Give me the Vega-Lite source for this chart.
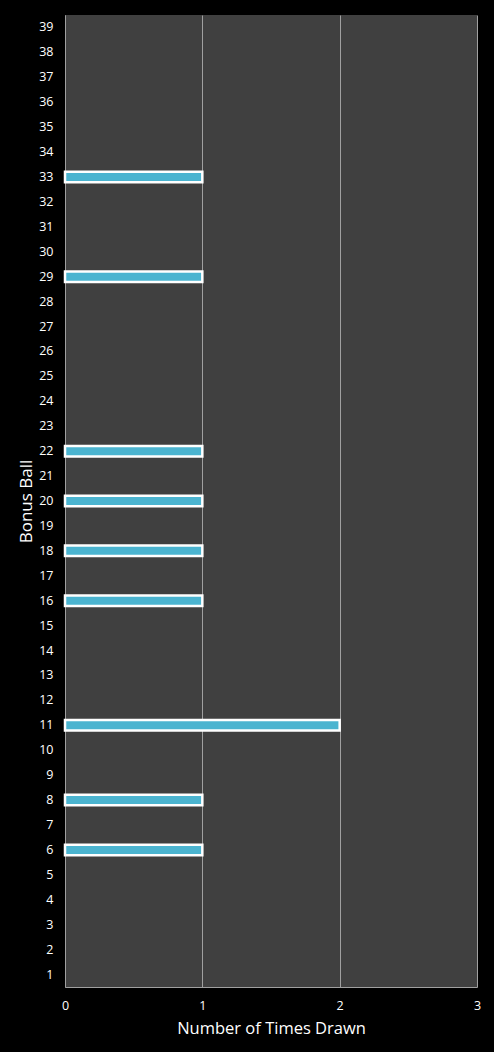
{
  "$schema": "https://vega.github.io/schema/vega-lite/v6.json",
  "width": 412,
  "height": 972,
  "autosize": {"type": "none"},
  "padding": {"left": 65, "top": 15, "right": 17, "bottom": 65},
  "background": "#000000",
  "config": {
    "view": {"fill": "#404040", "stroke": null},
    "font": "Open Sans",
    "axis": {"labelColor": "#ffffff", "titleColor": "#ffffff", "labelFont": "Open Sans", "titleFont": "Open Sans", "titleFontWeight": "normal"}
  },
  "data": {
    "values": [
      {"ball": 1, "count": 0}, {"ball": 2, "count": 0}, {"ball": 3, "count": 0},
      {"ball": 4, "count": 0}, {"ball": 5, "count": 0}, {"ball": 6, "count": 1},
      {"ball": 7, "count": 0}, {"ball": 8, "count": 1}, {"ball": 9, "count": 0},
      {"ball": 10, "count": 0}, {"ball": 11, "count": 2}, {"ball": 12, "count": 0},
      {"ball": 13, "count": 0}, {"ball": 14, "count": 0}, {"ball": 15, "count": 0},
      {"ball": 16, "count": 1}, {"ball": 17, "count": 0}, {"ball": 18, "count": 1},
      {"ball": 19, "count": 0}, {"ball": 20, "count": 1}, {"ball": 21, "count": 0},
      {"ball": 22, "count": 1}, {"ball": 23, "count": 0}, {"ball": 24, "count": 0},
      {"ball": 25, "count": 0}, {"ball": 26, "count": 0}, {"ball": 27, "count": 0},
      {"ball": 28, "count": 0}, {"ball": 29, "count": 1}, {"ball": 30, "count": 0},
      {"ball": 31, "count": 0}, {"ball": 32, "count": 0}, {"ball": 33, "count": 1},
      {"ball": 34, "count": 0}, {"ball": 35, "count": 0}, {"ball": 36, "count": 0},
      {"ball": 37, "count": 0}, {"ball": 38, "count": 0}, {"ball": 39, "count": 0}
    ]
  },
  "mark": {"type": "bar", "fill": "#4bb4d0", "strokeWidth": 2.5},
  "encoding": {
    "y": {
      "field": "ball",
      "type": "ordinal",
      "sort": "descending",
      "scale": {"paddingInner": 0.58, "paddingOuter": 0.29},
      "axis": {
        "title": "Bonus Ball",
        "titleFontSize": 17,
        "titlePadding": 3,
        "labelFontSize": 12.5,
        "labelPadding": 12,
        "ticks": false,
        "domain": true,
        "domainColor": "#a0a0a0",
        "labelAngle": 0
      }
    },
    "x": {
      "field": "count",
      "type": "quantitative",
      "scale": {"domain": [0, 3], "nice": false},
      "axis": {
        "title": "Number of Times Drawn",
        "titleFontSize": 16.5,
        "titlePadding": 9,
        "labelFontSize": 12.5,
        "labelPadding": 12,
        "values": [0, 1, 2, 3],
        "format": "d",
        "ticks": false,
        "grid": true,
        "gridColor": "#a0a0a0",
        "gridWidth": 1,
        "domainColor": "#a0a0a0",
        "labelFlush": false,
        "labelOverlap": false
      }
    },
    "stroke": {
      "condition": {"test": "datum.count === 0", "value": "transparent"},
      "value": "#ffffff"
    }
  }
}
